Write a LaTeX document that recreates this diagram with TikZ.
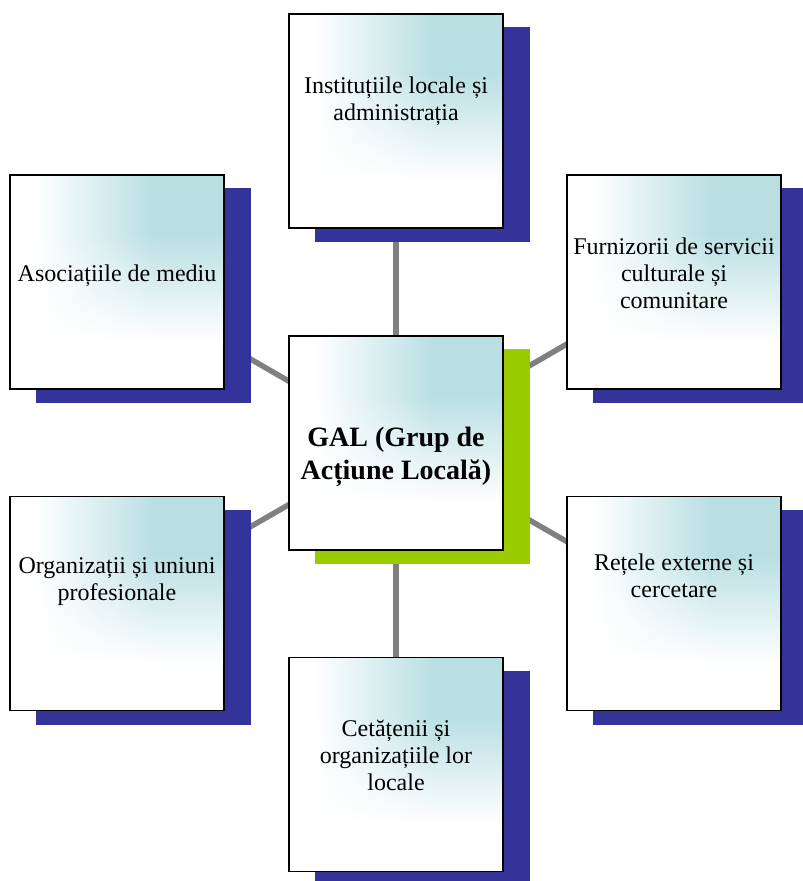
\documentclass[tikz,border=0pt]{standalone}
\usepackage{fontspec}
\setmainfont{Liberation Serif}
\definecolor{navy}{RGB}{51,51,153}
\definecolor{limeg}{RGB}{153,204,0}
\definecolor{conn}{RGB}{128,128,128}
\pgfdeclarefunctionalshading{boxfill}{\pgfpoint{-50bp}{-50bp}}{\pgfpoint{50bp}{50bp}}{}{
25 add 50 div 0.22 sub 2 mul dup 0 lt {pop 0} if dup 1 gt {pop 1} if
exch 25 add 50 div 0.12 sub 0.55 div dup 0 lt {pop 0} if dup 1 gt {pop 1} if
mul
dup 0.27 mul 1 exch sub exch
dup 0.125 mul 1 exch sub exch
0.11 mul 1 exch sub
}
\pgfdeclarelayer{linklayer}
\pgfdeclarelayer{shadowlayer}
\pgfsetlayers{linklayer,shadowlayer,main}
\tikzset{
  box/.style={draw=black, line width=1.8pt, minimum width=214pt, minimum height=214pt, inner sep=0pt, shading=boxfill},
  shadowbox/.style={fill=navy, minimum width=215pt, minimum height=215pt, inner sep=0pt},
  lbl/.style={font=\fontsize{24}{27}\selectfont, align=center, inner sep=0pt, anchor=base},
  title/.style={font=\bfseries\fontsize{28}{33}\selectfont, align=center, inner sep=0pt, anchor=base},
  link/.style={draw=conn, line width=5.5pt}
}
\begin{document}
\begin{tikzpicture}[x=1pt,y=-1pt]
\useasboundingbox (0,0) rectangle (803,881);
\node[box] (t) at (396,121) {};
\node[box] (lt) at (117,282) {};
\node[box] (rt) at (674,282) {};
\node[box] (c) at (396,443) {};
\node[box] (lb) at (117,603.5) {};
\node[box] (rb) at (674,603.5) {};
\node[box] (b) at (396,764.5) {};
\begin{pgfonlayer}{shadowlayer}
\node[shadowbox] (ts) at ([shift={(26.5,13.5)}]t.center) {};
\node[shadowbox] (lts) at ([shift={(26.5,13.5)}]lt.center) {};
\node[shadowbox] (rts) at ([shift={(26.5,13.5)}]rt.center) {};
\node[shadowbox, fill=limeg] (cs) at ([shift={(26.5,13.5)}]c.center) {};
\node[shadowbox] (lbs) at ([shift={(26.5,13.5)}]lb.center) {};
\node[shadowbox] (rbs) at ([shift={(26.5,13.5)}]rb.center) {};
\node[shadowbox] (bs) at ([shift={(26.5,13.5)}]b.center) {};
\end{pgfonlayer}
\begin{pgfonlayer}{linklayer}
\foreach \n in {t,lt,rt,lb,rb,b} \draw[link] (c.center) -- (\n.center);
\end{pgfonlayer}
\node[lbl] (ttxt) at (396,120) {Instituțiile locale și\\administrația};
\node[lbl] (lttxt) at (117,281) {Asociațiile de mediu};
\node[lbl] (rttxt) at (674,308) {Furnizorii de servicii\\culturale și\\comunitare};
\node[title] (ctxt) at (396,479) {GAL (Grup de\\Acțiune Locală)};
\node[lbl] (lbtxt) at (117,600) {Organizații și uniuni\\profesionale};
\node[lbl] (rbtxt) at (674,597) {Rețele externe și\\cercetare};
\node[lbl] (btxt) at (396,790) {Cetățenii și\\organizațiile lor\\locale};
\end{tikzpicture}
\end{document}
